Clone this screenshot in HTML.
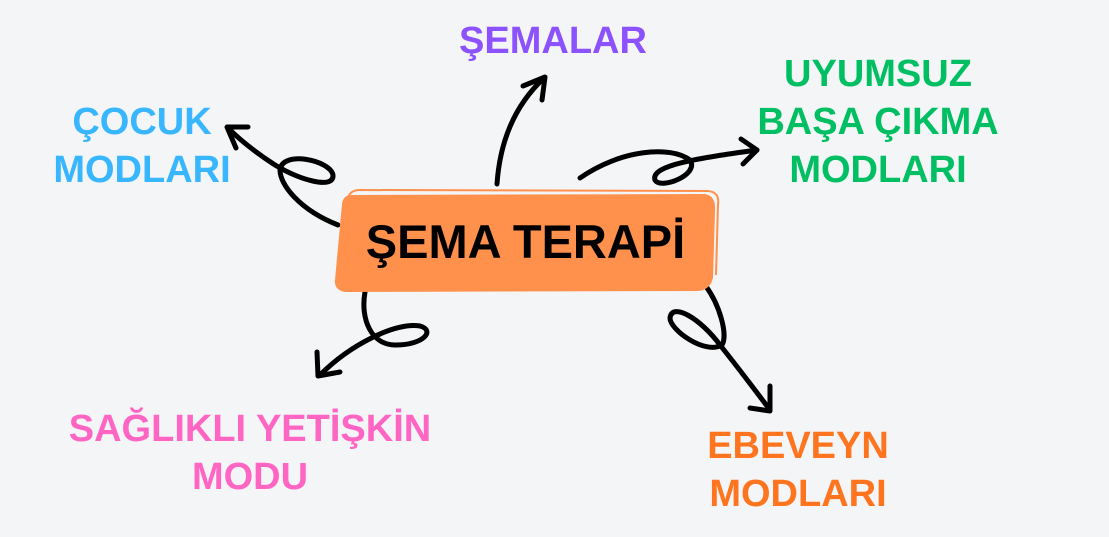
<!DOCTYPE html>
<html><head><meta charset="utf-8"><style>
body{margin:0;width:1109px;height:537px;background:#f4f5f7;overflow:hidden;position:relative;font-family:"Liberation Sans",sans-serif;font-weight:bold}
.t{position:absolute;text-align:center;font-size:38px;line-height:48px;white-space:nowrap}
</style></head><body>
<svg width="1109" height="537" style="position:absolute;left:0;top:0">
<g fill="none" stroke="#000" stroke-width="5" stroke-linecap="round" stroke-linejoin="round">
<path d="M497 184 C500 140 515 105 544 78"/>
<path d="M523 86 L545 77 L542 100"/>
<path d="M338 225 C300 210 280 185 280 170 C282 150 330 160 333 175 C334 190 300 180 275 165 C255 152 240 140 228 128"/>
<path d="M236 148 L227 127 L248 127"/>
<path d="M580 178 C620 150 670 145 690 160 C700 175 660 190 655 180 C650 165 700 158 757 150"/>
<path d="M741 139 L757 150 L743 164"/>
<path d="M365 292 C360 320 372 345 395 345 C425 345 435 330 420 326 C395 322 350 345 320 375"/>
<path d="M317 352 L318 376 L340 372"/>
<path d="M705 285 C720 305 728 335 722 345 C705 355 670 330 670 318 C672 302 700 318 720 345 C740 370 755 390 770 410"/>
<path d="M770 386 L770 411 L750 408"/>
</g>
<path d="M342 204 Q343 195 352 195 L705 194 Q716 196 715 210 L713 278 Q710 290 698 291 L345 292 Q334 290 335 280 Z" fill="#ff914d"/>
<path d="M348 198 Q350 190 360 190 L708 191 Q720 192 718 205 L716 275" fill="none" stroke="#ff914d" stroke-width="2"/>
</svg>
<div class="t" style="left:333px;width:385px;top:212px;font-size:47px;line-height:60px;color:#000">ŞEMA TERAPİ</div>
<div class="t" style="left:403px;width:300px;top:17px;color:#8c52ff">ŞEMALAR</div>
<div class="t" style="left:0;width:284px;top:98px;color:#38b6ff">ÇOCUK<br>MODLARI</div>
<div class="t" style="left:728px;width:300px;top:50px;color:#00bf63">UYUMSUZ<br>BAŞA ÇIKMA<br>MODLARI</div>
<div class="t" style="left:50px;width:400px;top:405px;color:#ff66c4">SAĞLIKLI YETİŞKİN<br>MODU</div>
<div class="t" style="left:648px;width:300px;top:422px;color:#ff751f">EBEVEYN<br>MODLARI</div>
</body></html>
